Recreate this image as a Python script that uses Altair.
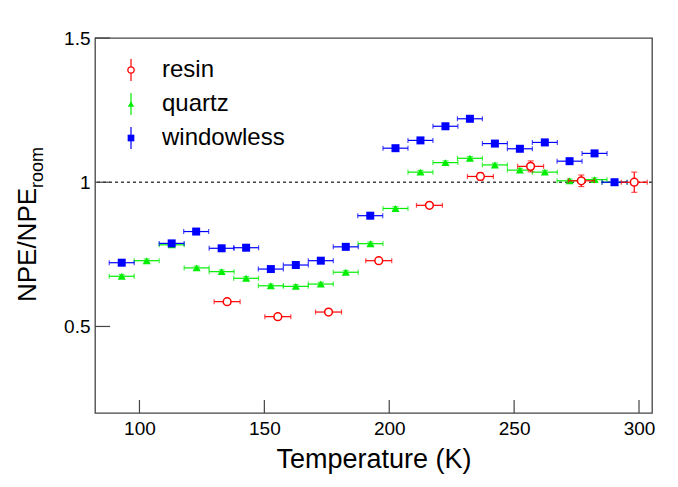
import altair as alt
import pandas as pd

# ---------------- data ----------------
windowless_T = [92.9, 112.9, 122.7, 132.9, 142.7, 152.6, 162.6, 172.6, 182.6, 192.4,
                202.5, 212.5, 222.5, 232.3, 242.3, 252.3, 262.3, 272.2, 282.2, 290.2]
windowless_v = [0.721, 0.788, 0.829, 0.771, 0.773, 0.699, 0.713, 0.728, 0.776, 0.884,
                1.118, 1.145, 1.194, 1.220, 1.134, 1.116, 1.138, 1.073, 1.100, 1.000]
windowless_ex = [5.0] * len(windowless_T)
windowless_ey = [0.006] * len(windowless_T)

quartz_T = [92.9, 102.9, 112.9, 122.9, 132.9, 142.7, 152.6, 162.6, 172.6, 182.6, 192.5,
            202.5, 212.5, 222.5, 232.3, 242.3, 252.3, 262.3, 272.2, 282.2, 290.2]
quartz_v = [0.674, 0.728, 0.783, 0.703, 0.690, 0.667, 0.641, 0.639, 0.647, 0.688, 0.787,
            0.909, 1.035, 1.068, 1.083, 1.060, 1.042, 1.035, 1.005, 1.009, 1.000]
quartz_ex = [5.0] * len(quartz_T)
quartz_ey = [0.006] * len(quartz_T)

resin_T = [135.1, 155.4, 175.7, 195.8, 216.1, 236.5, 256.6, 276.9, 298.1]
resin_v = [0.586, 0.534, 0.550, 0.728, 0.920, 1.020, 1.055, 1.005, 1.000]
resin_ex = [5.2] * len(resin_T)
resin_ey = [0.008, 0.008, 0.008, 0.008, 0.008, 0.013, 0.019, 0.020, 0.035]

legend_names = ["resin", "quartz", "windowless"]
x_ticks = [100, 150, 200, 250, 300]
y_ticks = [0.5, 1.0, 1.5]
ref_level = [1.0]

RED, GREEN, BLUE = "#ff0000", "#00ee00", "#0000ff"
FONT = "Liberation Sans"
W, H = 557, 375

XS = alt.Scale(domain=[82.2, 305.2], nice=False, zero=False)
YS = alt.Scale(domain=[0.2, 1.5], nice=False, zero=False)
AX = alt.Axis(values=x_ticks, ticks=False, domain=False, grid=False, labelFont=FONT,
              labelFontSize=19, labelColor="black", labelPadding=6,
              title="Temperature (K)", titleFont=FONT, titleFontSize=27,
              titleFontWeight="normal", titleColor="black", titlePadding=8)
AY = alt.Axis(values=y_ticks, format="~g", ticks=False, domain=False, grid=False,
              labelFont=FONT, labelFontSize=19, labelColor="black", labelPadding=5,
              title="")


def X(f):
    return alt.X(f, scale=XS, axis=AX, title="Temperature (K)")


def Y(f):
    return alt.Y(f, scale=YS, axis=AY, title="")


def series(T, V, EX, EY, color, shape, filled, size):
    df = pd.DataFrame({"T": T, "V": V, "ex": EX, "ey": EY})
    base = alt.Chart(df).transform_calculate(
        lo="datum.T - datum.ex", hi="datum.T + datum.ex",
        vlo="datum.V - datum.ey", vhi="datum.V + datum.ey")
    hbar = base.mark_rule(color=color, strokeWidth=1.2).encode(
        x=X("lo:Q"), x2="hi:Q", y=Y("V:Q"))
    vbar = base.mark_rule(color=color, strokeWidth=1.2).encode(
        x=X("T:Q"), y=Y("vlo:Q"), y2="vhi:Q")
    capl = base.mark_tick(color=color, orient="vertical", size=5, thickness=1.2).encode(
        x=X("lo:Q"), y=Y("V:Q"))
    caph = base.mark_tick(color=color, orient="vertical", size=5, thickness=1.2).encode(
        x=X("hi:Q"), y=Y("V:Q"))
    capt = base.mark_tick(color=color, orient="horizontal", size=6, thickness=1.2).encode(
        x=X("T:Q"), y=Y("vhi:Q"))
    capb = base.mark_tick(color=color, orient="horizontal", size=6, thickness=1.2).encode(
        x=X("T:Q"), y=Y("vlo:Q"))
    if filled:
        pts = base.mark_point(shape=shape, filled=True, color=color, size=size, opacity=1)
    else:
        pts = base.mark_point(shape=shape, filled=True, fill="white", stroke=color,
                              size=size, strokeWidth=1.5, opacity=1)
    pts = pts.encode(x=X("T:Q"), y=Y("V:Q"))
    return [hbar, vbar, capl, caph, capt, capb, pts]


def legend_entry(i, color, shape, filled, size):
    df = pd.DataFrame({"name": [legend_names[i]]})
    py = 32 + 34 * i
    base = alt.Chart(df)
    line = base.mark_rule(color=color, strokeWidth=1.2).encode(
        x=alt.value(36), y=alt.value(py - 11), y2=alt.value(py + 11))
    if filled:
        sym = base.mark_point(shape=shape, filled=True, color=color, size=size, opacity=1)
    else:
        sym = base.mark_point(shape=shape, filled=True, fill="white", stroke=color,
                              size=size, strokeWidth=1.3, opacity=1)
    sym = sym.encode(x=alt.value(36), y=alt.value(py))
    txt = base.mark_text(align="left", baseline="middle", font=FONT, fontSize=24,
                         color="black").encode(
        x=alt.value(67), y=alt.value(py), text="name:N")
    return [line, sym, txt]


# reference dashed line at 1
ref = alt.Chart(pd.DataFrame({"r": ref_level})).mark_rule(
    color="#444", strokeDash=[3, 3], strokeWidth=1.5).encode(y=Y("r:Q"))

# inward ticks
xt = alt.Chart(pd.DataFrame({"t": x_ticks})).mark_rule(color="#444", strokeWidth=1.2).encode(
    x=X("t:Q"), y=alt.value(H), y2=alt.value(H - 13))
yt = alt.Chart(pd.DataFrame({"t": y_ticks})).mark_rule(color="#444", strokeWidth=1.2).encode(
    y=Y("t:Q"), x=alt.value(0), x2=alt.value(15))

# y-axis title with subscript
ytitle = alt.Chart(pd.DataFrame({"s": ["NPE/NPE"]})).mark_text(
    angle=270, align="center", baseline="alphabetic", font=FONT, fontSize=26,
    color="black").encode(x=alt.value(-59), y=alt.value(207), text="s:N")
ysub = alt.Chart(pd.DataFrame({"s": ["room"]})).mark_text(
    angle=270, align="left", baseline="alphabetic", font=FONT, fontSize=18,
    color="black").encode(x=alt.value(-52), y=alt.value(150), text="s:N")

layers = [ref, xt, yt]
layers += series(quartz_T, quartz_v, quartz_ex, quartz_ey, GREEN, "triangle-up", True, 64)
layers += series(windowless_T, windowless_v, windowless_ex, windowless_ey, BLUE, "square", True, 64)
layers += series(resin_T, resin_v, resin_ex, resin_ey, RED, "circle", False, 60)
layers += legend_entry(0, RED, "circle", False, 40)
layers += legend_entry(1, GREEN, "triangle-up", True, 40)
layers += legend_entry(2, BLUE, "square", True, 45)
layers += [ytitle, ysub]

chart = alt.layer(*layers).properties(
    width=W, height=H,
    autosize=alt.AutoSizeParams(type="none"),
    padding={"left": 87, "top": 30, "right": 10, "bottom": 65},
    background="white",
).configure_view(stroke="#444", strokeWidth=1.3)

chart.save("out.html", embed_options={"renderer": "svg", "actions": False})
